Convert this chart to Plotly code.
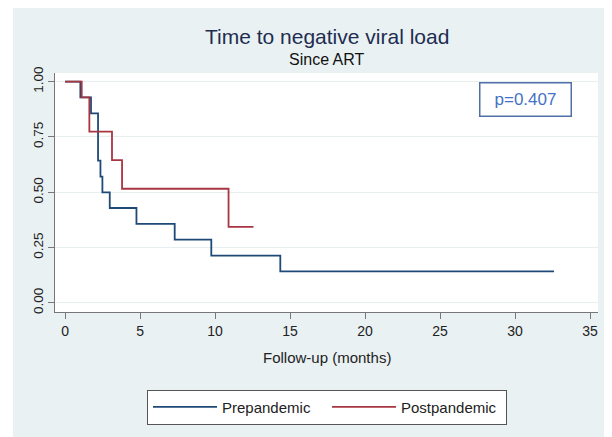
import plotly.graph_objects as go

# Kaplan-Meier step data
pre_t = [0, 1.02, 1.73, 2.2, 2.36, 2.49, 2.98, 4.76, 7.31, 9.75, 14.35, 32.6]
pre_s = [1.0, 0.929, 0.857, 0.643, 0.571, 0.5, 0.429, 0.357, 0.286, 0.214, 0.143, 0.143]
post_t = [0, 1.11, 1.62, 3.13, 3.8, 10.9, 12.56]
post_s = [1.0, 0.929, 0.774, 0.645, 0.516, 0.344, 0.344]

x_ticks = [0, 5, 10, 15, 20, 25, 30, 35]
y_ticks = [0, 0.25, 0.5, 0.75, 1.0]
y_labels = ["0.00", "0.25", "0.50", "0.75", "1.00"]

FONT = "Liberation Sans, Arial, sans-serif"
BG = "#e9f1f3"

fig = go.Figure()
fig.add_trace(go.Scatter(x=pre_t, y=pre_s, mode="lines", line_shape="hv",
                         line=dict(color="#1f4a78", width=1.8), name="Prepandemic"))
fig.add_trace(go.Scatter(x=post_t, y=post_s, mode="lines", line_shape="hv",
                         line=dict(color="#a83641", width=1.8), name="Postpandemic"))

# the page has an 8px body margin; figure is sized so it ends at the window edges
OFF = 8
W, H = 612 - OFF, 437 - OFF
L, R, T, B = 55 - OFF, 14, 73 - OFF, 121
pw, ph = W - L - R, H - T - B

def px(xp):  # page pixel -> paper x
    return (xp - OFF - L) / pw

def py(yp):  # page pixel -> paper y
    return (H - B - (yp - OFF)) / ph

fig.update_layout(
    width=W, height=H,
    margin=dict(l=L, r=R, t=T, b=B, pad=0),
    paper_bgcolor=BG, plot_bgcolor="white",
    font=dict(family=FONT, color="#222"),
    showlegend=True,
    legend=dict(orientation="h", x=px(327), xanchor="center", y=py(395), yanchor="top",
                bgcolor="white", bordercolor="#555", borderwidth=1,
                font=dict(size=15, family=FONT, color="#222"),
                itemwidth=64, entrywidth=100, entrywidthmode="pixels"),
    xaxis=dict(range=[-0.67, 35.53], tickvals=x_ticks, showgrid=False, zeroline=False,
               showline=True, linecolor="#777", linewidth=1, ticks="outside", ticklen=6,
               tickcolor="#777", tickfont=dict(size=14, family=FONT, color="#222")),
    yaxis=dict(range=[-0.041, 1.039], tickvals=y_ticks, ticktext=y_labels, tickangle=-90,
               showgrid=True, gridcolor="#e6eef0", gridwidth=1, zeroline=False,
               showline=True, linecolor="#777", linewidth=1, ticks="outside", ticklen=6,
               tickcolor="#777", tickfont=dict(size=13.5, family=FONT, color="#222")),
    shapes=[
        dict(type="rect", xref="paper", yref="paper", x0=px(-50), x1=px(13), y0=py(500), y1=py(-50),
             fillcolor="white", line=dict(width=0), layer="below"),
    ],
    annotations=[
        dict(text="Time to negative viral load", xref="paper", yref="paper", x=0.5, y=py(36),
             xanchor="center", yanchor="middle", showarrow=False,
             font=dict(size=21, family=FONT, color="#1e2d50")),
        dict(text="Since ART", xref="paper", yref="paper", x=0.5, y=py(59),
             xanchor="center", yanchor="middle", showarrow=False,
             font=dict(size=16, family=FONT, color="#111")),
        dict(text="Follow-up (months)", xref="paper", yref="paper", x=0.5, y=py(362),
             xanchor="center", yanchor="middle", showarrow=False,
             font=dict(size=15, family=FONT, color="#222")),
        dict(text="p=0.407", xref="paper", yref="paper", x=px(525.5), y=py(100),
             xanchor="center", yanchor="middle", showarrow=False,
             width=88, height=30, borderpad=1, borderwidth=1.5, bordercolor="#4f6fa8",
             bgcolor="white", font=dict(size=17, family=FONT, color="#4472c4")),
    ],
)

fig.write_html("out.html")
